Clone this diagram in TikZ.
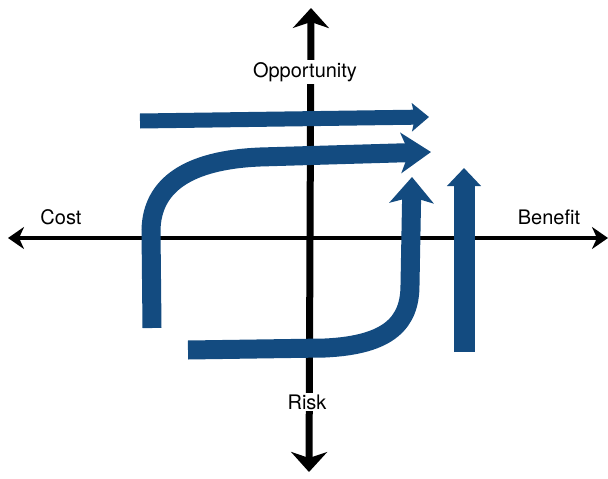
\documentclass[tikz,border=0pt]{standalone}
\usepackage{fontspec}
\setmainfont{TeX Gyre Heros}
\usetikzlibrary{arrows.meta}
\definecolor{flowblue}{RGB}{19,75,128}
\begin{document}
\begin{tikzpicture}[x=1pt,y=-1pt,
  haxis/.style={line width=4.5pt, -{Stealth[length=16pt,width=22pt,inset=5pt]}},
  vaxis/.style={line width=7pt, -{Stealth[length=20pt,width=36pt,inset=6pt]}},
  flow/.style={flowblue, line width=19pt},
  lbl/.style={fill=white, inner sep=2pt, font=\fontsize{20}{23}\selectfont}]
\useasboundingbox (0,0) rectangle (608,479);

% axes
\coordinate (origin) at (310,238);
\coordinate (costend) at (8,238);
\coordinate (benefitend) at (608,238);
\coordinate (oppend) at (311,8);
\coordinate (riskend) at (309,472);
\draw[haxis] (origin) -- (costend);
\draw[haxis] (origin) -- (benefitend);
\draw[vaxis] (origin) -- (oppend);
\draw[vaxis] (origin) -- (riskend);

% axis labels
\node[lbl] (opp) at (305,72) {Opportunity};
\node[lbl] (risk) at (307,402) {Risk};
\node[lbl, fill=none] (cost) at (61,217) {Cost};
\node[lbl, fill=none] (benefit) at (549,217) {Benefit};

% flows
\coordinate (f1s) at (140,121);
\coordinate (f1e) at (429,117);
\draw[flow, line width=15pt, -{Stealth[length=17pt,width=28pt,inset=3pt]}] (f1s) -- (f1e);

\coordinate (f2s) at (152,328);
\coordinate (f2e) at (431,152);
\draw[flow, -{Stealth[length=30pt,width=40pt,inset=8pt]}]
  (f2s) -- (151,230) .. controls (152,185) and (188,160) .. (260,157) -- (f2e);

\coordinate (f3s) at (188,350);
\coordinate (f3e) at (412,177);
\draw[flow, -{Stealth[length=26pt,width=44pt,inset=6pt]}]
  (f3s) -- (325,348) .. controls (390,345) and (410,322) .. (410,285) -- (f3e);

\coordinate (f4s) at (464,352);
\coordinate (f4e) at (464,168);
\draw[flow, line width=21pt, -{Triangle[length=18pt,width=33pt]}] (f4s) -- (f4e);
\end{tikzpicture}
\end{document}
